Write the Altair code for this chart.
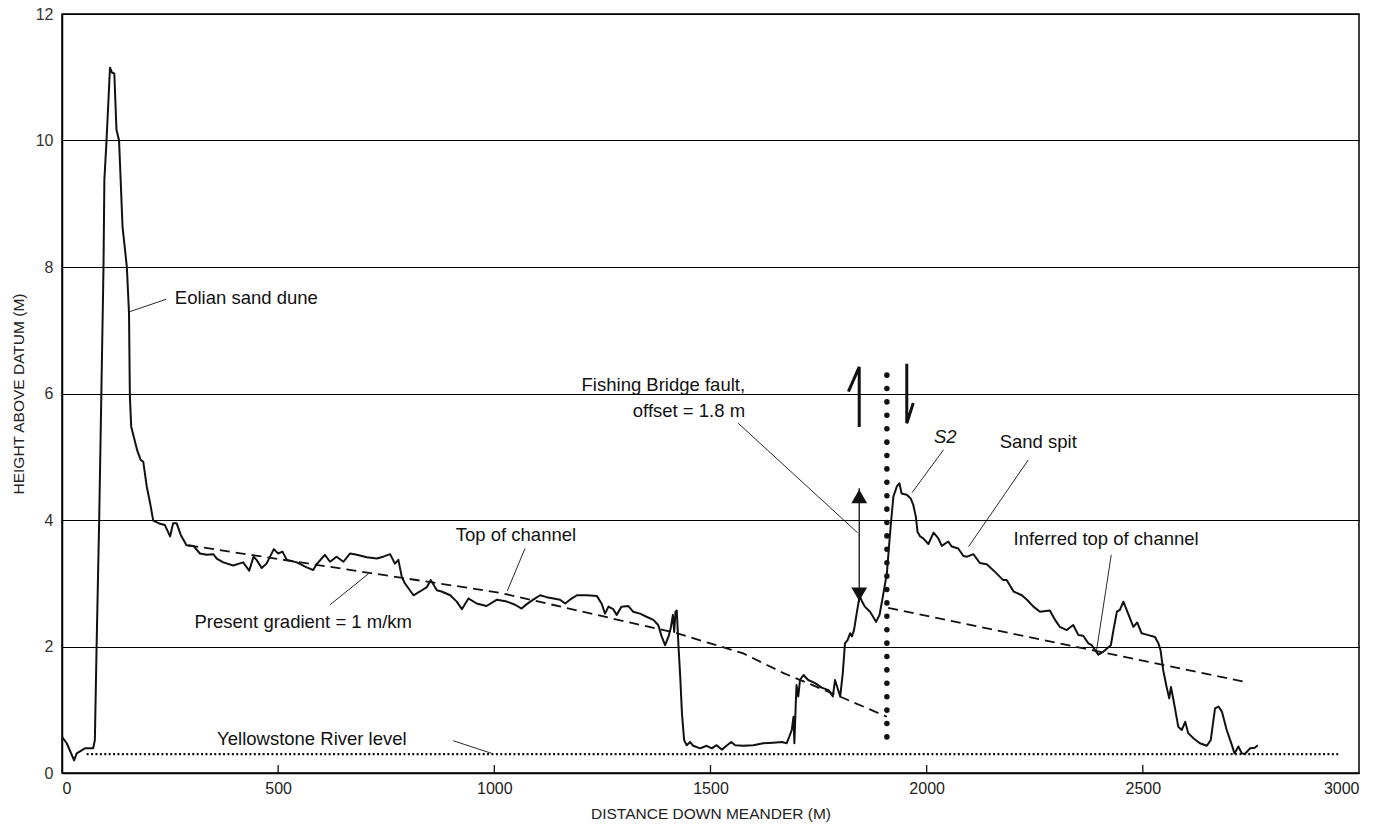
import altair as alt
import pandas as pd

# Elevation profile along the meander
dist_m = [0, 11, 18, 28, 34, 53, 72, 76, 80, 86, 96, 98, 103, 111, 116, 121, 126, 132, 140, 150,
          155, 157, 160, 174, 182, 188, 196, 204, 211, 227, 238, 250, 257, 265, 275, 288, 304, 319,
          335, 350, 358, 373, 396, 419, 433, 443, 450, 462, 473, 490, 500, 510, 520, 543, 566, 581,
          589, 608, 620, 635, 651, 666, 682, 705, 728, 743, 759, 770, 778, 786, 793, 813, 828, 844,
          853, 867, 878, 898, 913, 925, 940, 959, 982, 1006, 1029, 1048, 1063, 1075, 1090, 1106,
          1121, 1137, 1152, 1164, 1175, 1191, 1214, 1237, 1248, 1256, 1264, 1275, 1283, 1294, 1310,
          1321, 1337, 1352, 1368, 1379, 1387, 1395, 1403, 1408, 1413, 1416, 1419, 1422, 1426, 1430,
          1434, 1439, 1445, 1453, 1460, 1476, 1491, 1503, 1514, 1526, 1537, 1548, 1557, 1576, 1599,
          1622, 1645, 1665, 1676, 1682, 1688, 1692, 1694, 1697, 1699, 1703, 1707, 1715, 1726, 1742,
          1757, 1773, 1783, 1788, 1793, 1800, 1806, 1811, 1817, 1823, 1827, 1832, 1838, 1845, 1850,
          1857, 1869, 1883, 1891, 1900, 1908, 1914, 1918, 1923, 1931, 1937, 1942, 1954, 1963, 1969,
          1975, 1979, 1985, 1992, 2004, 2016, 2027, 2035, 2050, 2058, 2073, 2085, 2094, 2108, 2123,
          2139, 2158, 2177, 2185, 2201, 2220, 2232, 2247, 2262, 2285, 2297, 2308, 2324, 2339, 2351,
          2362, 2374, 2382, 2397, 2409, 2426, 2432, 2440, 2447, 2455, 2466, 2478, 2487, 2497, 2513,
          2528, 2536, 2541, 2547, 2555, 2561, 2565, 2571, 2582, 2590, 2598, 2605, 2617, 2632, 2648,
          2657, 2667, 2675, 2683, 2694, 2706, 2712, 2721, 2729, 2736, 2748, 2759, 2766]
height_m = [0.57, 0.47, 0.36, 0.2, 0.31, 0.39, 0.39, 0.52, 2.0, 4.0, 8.0, 9.38, 10.0, 11.15, 11.07,
            11.06, 10.17, 10.0, 8.64, 8.0, 7.27, 5.95, 5.48, 5.1, 4.95, 4.92, 4.53, 4.26, 3.99, 3.94,
            3.92, 3.74, 3.95, 3.95, 3.76, 3.6, 3.59, 3.47, 3.45, 3.46, 3.39, 3.33, 3.28, 3.33, 3.2,
            3.42, 3.37, 3.24, 3.31, 3.54, 3.47, 3.5, 3.37, 3.33, 3.25, 3.21, 3.3, 3.45, 3.34, 3.42,
            3.34, 3.47, 3.45, 3.41, 3.39, 3.42, 3.46, 3.31, 3.37, 3.1, 3.0, 2.81, 2.87, 2.94, 3.05,
            2.89, 2.87, 2.81, 2.71, 2.59, 2.76, 2.68, 2.64, 2.74, 2.71, 2.66, 2.6, 2.67, 2.74, 2.81,
            2.78, 2.76, 2.74, 2.68, 2.74, 2.81, 2.81, 2.8, 2.68, 2.52, 2.63, 2.59, 2.5, 2.63, 2.64,
            2.55, 2.52, 2.47, 2.42, 2.34, 2.16, 2.02, 2.16, 2.29, 2.5, 2.23, 2.55, 2.57, 2.0, 1.52,
            0.94, 0.52, 0.44, 0.49, 0.43, 0.39, 0.43, 0.39, 0.44, 0.37, 0.43, 0.49, 0.44, 0.43, 0.44,
            0.47, 0.48, 0.49, 0.47, 0.57, 0.68, 0.89, 0.47, 1.05, 1.39, 1.21, 1.47, 1.55, 1.47, 1.42,
            1.35, 1.31, 1.21, 1.47, 1.36, 1.21, 1.58, 2.05, 2.1, 2.21, 2.16, 2.26, 2.52, 2.8, 2.72,
            2.63, 2.55, 2.39, 2.5, 2.84, 3.16, 3.68, 4.0, 4.37, 4.53, 4.58, 4.42, 4.4, 4.34, 4.24,
            4.05, 3.81, 3.74, 3.71, 3.62, 3.8, 3.71, 3.59, 3.66, 3.58, 3.55, 3.43, 3.42, 3.46, 3.32,
            3.3, 3.18, 3.05, 3.05, 2.87, 2.81, 2.74, 2.63, 2.55, 2.57, 2.42, 2.31, 2.26, 2.34, 2.18,
            2.17, 2.05, 2.02, 1.87, 1.92, 2.02, 2.26, 2.55, 2.58, 2.71, 2.52, 2.31, 2.38, 2.21, 2.18,
            2.15, 2.05, 1.94, 1.63, 1.36, 1.18, 1.36, 1.15, 0.73, 0.68, 0.81, 0.63, 0.55, 0.47, 0.43,
            0.52, 1.02, 1.05, 0.97, 0.68, 0.44, 0.31, 0.42, 0.31, 0.3, 0.39, 0.4, 0.44]

# Gradient lines: present gradient (with its downstream bend) and inferred top of channel
grad_group = ["present"] * 8 + ["inferred"] * 2
grad_x = [292, 1013, 1422, 1514, 1576, 1669, 1792, 1908, 1911, 2737]
grad_y = [3.6, 2.85, 2.21, 2.02, 1.89, 1.58, 1.23, 0.89, 2.61, 1.44]

# Yellowstone River level
river_level = 0.3
river_x = [57, 2956]

# Fishing Bridge fault trace
fault_x = 1908
fault_y = [0.57, 6.47]

# Offset arrow (1.8 m)
offset_x = 1844
offset_low, offset_high = 2.7, 4.5

# Half-arrows showing the sense of movement on the fault
sense_group = ["up", "up", "up", "down", "down", "down"]
sense_x = [1819, 1844, 1844, 1954, 1954, 1969]
sense_y = [6.03, 6.42, 5.47, 6.47, 5.53, 5.85]

# Leader lines (x, y, x2, y2)
lead_x = [155, 620, 1030, 994, 1840, 1966, 2097, 2393]
lead_y = [7.29, 2.66, 2.88, 0.31, 3.80, 4.43, 3.58, 1.94]
lead_x2 = [241, 709, 1071, 905, 1564, 2039, 2235, 2427]
lead_y2 = [7.49, 3.15, 3.55, 0.51, 5.53, 5.11, 4.95, 3.45]

# Labels
left_labels = ["Eolian sand dune"]
left_x = [261]
left_y = [7.51]

center_labels = ["Present gradient = 1 m/km", "Top of channel", "Yellowstone River level",
                 "Sand spit", "Inferred top of channel"]
center_x = [558, 1050, 578, 2258, 2415]
center_y = [2.39, 3.76, 0.53, 5.24, 3.7]

right_labels = ["Fishing Bridge fault,", "offset = 1.8 m"]
right_x = [1580, 1580]
right_y = [6.13, 5.72]

italic_labels = ["S2"]
italic_x = [2043]
italic_y = [5.31]

tick_values = [500, 1000, 1500, 2000, 2500]

W, H = 1297, 759
FONT = "Liberation Sans, Arial, Helvetica, sans-serif"
INK = "#111111"

xs = alt.Scale(domain=[0, 3000], nice=False, zero=False)
ys = alt.Scale(domain=[0, 12], nice=False, zero=False)

profile = pd.DataFrame({"d": dist_m, "h": height_m})
grads = pd.DataFrame({"g": grad_group, "d": grad_x, "h": grad_y})
sense = pd.DataFrame({"g": sense_group, "d": sense_x, "h": sense_y,
                      "idx": list(range(len(sense_group)))})
leads = pd.DataFrame({"x": lead_x, "y": lead_y, "x2": lead_x2, "y2": lead_y2})

base_x = alt.X("d:Q", scale=xs,
               axis=alt.Axis(values=[0, 500, 1000, 1500, 2000, 2500, 3000], grid=False, ticks=False,
                             format="d", labelFont=FONT, labelFontSize=16, labelColor="#222",
                             labelPadding=7, domainColor="black", domainWidth=1.5,
                             title="DISTANCE DOWN MEANDER (M)", titleFont=FONT, titleFontSize=15.5,
                             titleFontWeight="normal", titleColor="#222", titlePadding=10))
base_y = alt.Y("h:Q", scale=ys,
               axis=alt.Axis(values=[0, 2, 4, 6, 8, 10, 12], grid=True, gridColor="black",
                             gridWidth=1.1, ticks=False, format="d", labelFont=FONT,
                             labelFontSize=16, labelColor="#333", labelPadding=9,
                             domainColor="black", domainWidth=1.5,
                             title="HEIGHT ABOVE DATUM (M)", titleFont=FONT, titleFontSize=15.5,
                             titleFontWeight="normal", titleColor="#222",
                             titleX=-44, titleY=H / 2, titleAngle=270, titleBaseline="middle",
                             titleAlign="center"))

line = alt.Chart(profile).mark_line(color=INK, strokeWidth=2, strokeJoin="round").encode(
    x=base_x, y=base_y, order="d:Q")

dashes = alt.Chart(grads).mark_line(color=INK, strokeWidth=1.8, strokeDash=[10, 6]).encode(
    x=alt.X("d:Q", scale=xs), y=alt.Y("h:Q", scale=ys), detail="g:N")

river = alt.Chart(pd.DataFrame({"x": [river_x[0]], "x2": [river_x[1]], "y": [river_level]})).mark_rule(
    color=INK, strokeWidth=2.2, strokeDash=[2, 2.4]).encode(
    x=alt.X("x:Q", scale=xs), x2="x2:Q", y=alt.Y("y:Q", scale=ys))

fault = alt.Chart(pd.DataFrame({"x": [fault_x], "y": [fault_y[0]], "y2": [fault_y[1]]})).mark_rule(
    color=INK, strokeWidth=5.5, strokeCap="round", strokeDash=[0.1, 13.3]).encode(
    x=alt.X("x:Q", scale=xs), y=alt.Y("y:Q", scale=ys), y2="y2:Q")

shaft = alt.Chart(pd.DataFrame({"x": [offset_x], "y": [offset_low], "y2": [offset_high]})).mark_rule(
    color=INK, strokeWidth=1.3).encode(
    x=alt.X("x:Q", scale=xs), y=alt.Y("y:Q", scale=ys), y2="y2:Q")

head_up = alt.Chart(pd.DataFrame({"x": [offset_x], "y": [offset_high]})).mark_point(
    shape="triangle-up", filled=True, size=250, color=INK, opacity=1, yOffset=8).encode(
    x=alt.X("x:Q", scale=xs), y=alt.Y("y:Q", scale=ys))
head_down = alt.Chart(pd.DataFrame({"x": [offset_x], "y": [offset_low]})).mark_point(
    shape="triangle-down", filled=True, size=250, color=INK, opacity=1, yOffset=-8).encode(
    x=alt.X("x:Q", scale=xs), y=alt.Y("y:Q", scale=ys))

sense_marks = alt.Chart(sense).mark_line(color=INK, strokeWidth=3, strokeJoin="miter").encode(
    x=alt.X("d:Q", scale=xs), y=alt.Y("h:Q", scale=ys), detail="g:N", order="idx:Q")

leaders = alt.Chart(leads).mark_rule(color=INK, strokeWidth=0.9).encode(
    x=alt.X("x:Q", scale=xs), y=alt.Y("y:Q", scale=ys), x2="x2:Q", y2="y2:Q")

ticks = alt.Chart(pd.DataFrame({"x": tick_values})).mark_rule(color=INK, strokeWidth=1.3).encode(
    x=alt.X("x:Q", scale=xs), y=alt.value(H), y2=alt.value(H - 8))


def labels(texts, xv, yv, align, style="normal"):
    df = pd.DataFrame({"t": texts, "x": xv, "y": yv})
    return alt.Chart(df).mark_text(font=FONT, fontSize=18.5, color="#111", align=align,
                                   baseline="middle", fontStyle=style).encode(
        x=alt.X("x:Q", scale=xs), y=alt.Y("y:Q", scale=ys), text="t:N")


chart = alt.layer(
    line, dashes, river, fault, shaft, head_up, head_down, sense_marks, leaders, ticks,
    labels(left_labels, left_x, left_y, "left"),
    labels(center_labels, center_x, center_y, "center"),
    labels(right_labels, right_x, right_y, "right"),
    labels(italic_labels, italic_x, italic_y, "center", "italic"),
).properties(
    width=W, height=H,
    autosize=alt.AutoSizeParams(type="none"),
    padding={"left": 62, "top": 14, "right": 31, "bottom": 55},
    background="white",
).configure_view(stroke="black", strokeWidth=1.5)

chart.save("out.html", embed_options={"renderer": "svg", "actions": False})
